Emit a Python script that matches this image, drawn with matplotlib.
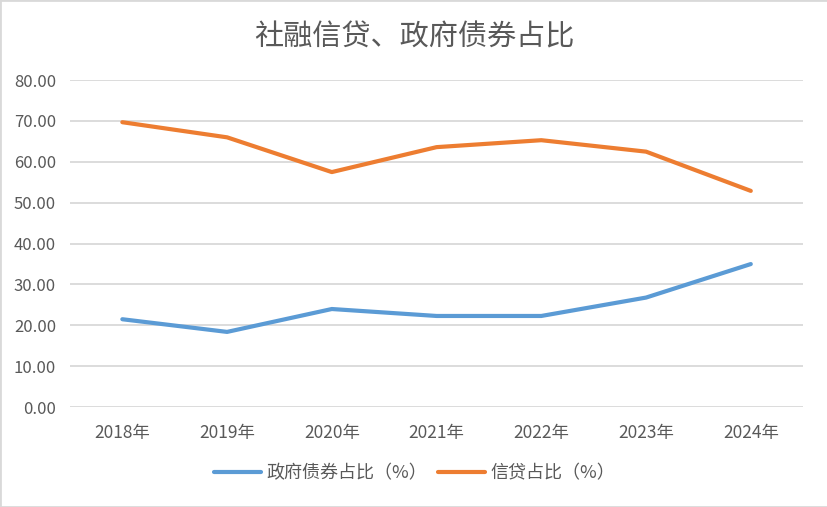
import matplotlib
matplotlib.use("Agg")
import matplotlib.pyplot as plt
from matplotlib.patches import Rectangle

plt.rcParams['font.family'] = ['Noto Sans CJK SC', 'DejaVu Sans']

# data
years = ["2018年", "2019年", "2020年", "2021年", "2022年", "2023年", "2024年"]
gov_bond = [21.5, 18.4, 24.0, 22.3, 22.3, 26.8, 35.0]
credit = [69.7, 66.0, 57.5, 63.6, 65.3, 62.5, 52.9]
y_ticks = [0, 10, 20, 30, 40, 50, 60, 70, 80]

fig = plt.figure(figsize=(8.28, 5.07), dpi=100)
ax = fig.add_axes([0.0845, 0.197, 0.8855, 0.645])

x = range(len(years))
ax.plot(x, gov_bond, color="#5B9BD5", lw=3, solid_capstyle="round",
        label="政府债券占比（%）", zorder=3)
ax.plot(x, credit, color="#ED7D31", lw=3, solid_capstyle="round",
        label="信贷占比（%）", zorder=3)

ax.set_xlim(-0.5, len(years) - 0.5)
ax.set_ylim(0, 80)
ax.set_yticks(y_ticks)
ax.set_yticklabels([f"{v:.2f}" for v in y_ticks])
ax.set_xticks(list(x))
ax.set_xticklabels(years)
ax.grid(axis="y", color="#D9D9D9", lw=1.3)
ax.set_axisbelow(True)
for s in ax.spines.values():
    s.set_visible(False)
ax.tick_params(length=0, colors="#595959", labelsize=12)
ax.tick_params(axis="x", pad=12, labelsize=12.5)
ax.tick_params(axis="y", pad=10)

fig.text(0.5, 0.927, "社融信贷、政府债券占比", ha="center", va="center",
         fontsize=21, color="#595959")

fig.legend(loc="center", bbox_to_anchor=(0.501, 0.067), ncol=2, frameon=False,
           fontsize=13, handlelength=2.6, columnspacing=0.6, handletextpad=0.3,
           labelcolor="#595959")

fig.patches.append(Rectangle((0, 0), 1, 1, transform=fig.transFigure, fill=False,
                             edgecolor="#D9D9D9", lw=2))

fig.savefig("out.png", dpi=100)
